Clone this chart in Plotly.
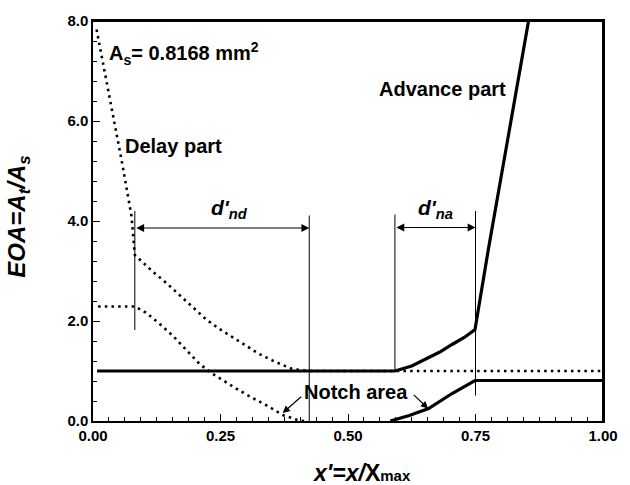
import plotly.graph_objects as go

# ---- data ----
adv_x = [0.008, 0.592, 0.625, 0.652, 0.680, 0.704, 0.728, 0.749, 0.762, 0.775, 0.854]
adv_y = [1.0, 1.0, 1.10, 1.24, 1.38, 1.53, 1.67, 1.83, 2.62, 3.42, 8.0]

delay_up_x = [0.007, 0.020, 0.033, 0.045, 0.056, 0.066, 0.0755, 0.082, 0.100, 0.118, 0.145, 0.170,
              0.196, 0.222, 0.248, 0.274, 0.300, 0.326, 0.358, 0.391, 0.424, 1.0]
delay_up_y = [7.83, 7.15, 6.48, 5.82, 5.22, 4.65, 4.10, 3.32, 3.15, 2.98, 2.75, 2.52,
              2.27, 2.03, 1.84, 1.67, 1.50, 1.34, 1.18, 1.04, 1.0, 1.0]

delay_low_x = [0.010, 0.082, 0.105, 0.131, 0.157, 0.183, 0.209, 0.235, 0.261, 0.287, 0.313, 0.339, 0.372, 0.404, 0.415]
delay_low_y = [2.29, 2.29, 2.16, 1.94, 1.70, 1.42, 1.14, 0.94, 0.77, 0.61, 0.46, 0.32, 0.12, 0.01, 0.0]

notch_x = [0.583, 0.620, 0.658, 0.704, 0.749, 1.0]
notch_y = [0.0, 0.11, 0.25, 0.55, 0.81, 0.81]

# guide lines (x position, y bottom, y top)
guide_x = [0.082, 0.424, 0.592, 0.750]
guide_y0 = [1.82, 0.0, 1.0, 0.51]
guide_y1 = [4.20, 4.11, 4.13, 4.20]

# dimension arrows (x start, x end, y)
dim_x0 = [0.082, 0.592]
dim_x1 = [0.424, 0.750]
dim_y = [3.86, 3.87]
dim_labels = ["<i>d'</i><sub><i>nd</i></sub>", "<i>d'</i><sub><i>na</i></sub>"]
dim_label_x = [0.268, 0.671]
dim_label_y = [4.25, 4.25]

x_range = [0, 1]
y_range = [0, 8]
x_ticks = [0.0, 0.25, 0.5, 0.75, 1.0]
x_ticktext = ["0.00", "0.25", "0.50", "0.75", "1.00"]
y_ticks = [0, 2, 4, 6, 8]
y_ticktext = ["0.0", "2.0", "4.0", "6.0", "8.0"]

FONT = "Liberation Sans, Arial, sans-serif"

fig = go.Figure()
dotted = dict(color="black", width=2.6, dash="2.5px,4.2px")
fig.add_trace(go.Scatter(x=delay_up_x, y=delay_up_y, mode="lines", line=dotted, hoverinfo="skip"))
fig.add_trace(go.Scatter(x=delay_low_x, y=delay_low_y, mode="lines", line=dotted, hoverinfo="skip"))
fig.add_trace(go.Scatter(x=adv_x, y=adv_y, mode="lines", line=dict(color="black", width=3.2), hoverinfo="skip"))
fig.add_trace(go.Scatter(x=notch_x, y=notch_y, mode="lines", line=dict(color="black", width=3.2), hoverinfo="skip"))
# invisible trace that activates the top/right frame axes
fig.add_trace(go.Scatter(x=[x_range[0]], y=[y_range[0]], xaxis="x2", yaxis="y2", mode="markers",
                         marker=dict(opacity=0), hoverinfo="skip"))

for gx, g0, g1 in zip(guide_x, guide_y0, guide_y1):
    fig.add_shape(type="line", x0=gx, x1=gx, y0=g0, y1=g1, xref="x", yref="y",
                  line=dict(color="black", width=1))

# top and right frame lines
fig.add_shape(type="line", x0=0, x1=1, y0=1, y1=1, xref="paper", yref="paper",
              line=dict(color="black", width=2), layer="above")
fig.add_shape(type="line", x0=1, x1=1, y0=0, y1=1, xref="paper", yref="paper",
              line=dict(color="black", width=2), layer="above")

ann = []
for x0, x1, yy in zip(dim_x0, dim_x1, dim_y):
    ann.append(dict(x=x1, y=yy, ax=x0, ay=yy, xref="x", yref="y", axref="x", ayref="y",
                    text="", showarrow=True, arrowhead=2, arrowside="end+start",
                    arrowsize=1.3, arrowwidth=1.2, arrowcolor="black",
                    startarrowhead=2, startarrowsize=1.3))
for t, lx, ly in zip(dim_labels, dim_label_x, dim_label_y):
    ann.append(dict(x=lx, y=ly, xref="x", yref="y", text=t, showarrow=False,
                    xanchor="center", yanchor="middle",
                    font=dict(family=FONT, size=21, color="black", weight="bold")))

text_font = dict(family=FONT, size=20, color="black", weight="bold")
ann += [
    dict(x=0.158, y=5.50, xref="x", yref="y", text="Delay part", showarrow=False,
         xanchor="center", yanchor="middle", font=text_font),
    dict(x=0.685, y=6.64, xref="x", yref="y", text="Advance part", showarrow=False,
         xanchor="center", yanchor="middle", font=text_font),
    dict(x=0.516, y=0.59, xref="x", yref="y", text="Notch area", showarrow=False,
         xanchor="center", yanchor="middle", font=text_font),
    dict(x=0.028, y=7.36, xref="x", yref="y", xanchor="left", yanchor="middle",
         text="A<sub>s</sub>= 0.8168 mm<sup>2</sup>", showarrow=False, font=text_font),
    dict(x=0.372, y=0.16, ax=0.411, ay=0.51, xref="x", yref="y", axref="x", ayref="y", text="",
         showarrow=True, arrowhead=2, arrowsize=1.2, arrowwidth=1.2, arrowcolor="black"),
    dict(x=0.657, y=0.25, ax=0.626, ay=0.55, xref="x", yref="y", axref="x", ayref="y", text="",
         showarrow=True, arrowhead=2, arrowsize=1.2, arrowwidth=1.2, arrowcolor="black"),
    dict(x=-0.145, y=0.511, xref="paper", yref="paper", textangle=-90, showarrow=False,
         xanchor="center", yanchor="middle",
         text="<i>EOA=A<sub>t</sub>/A<sub>s</sub></i>",
         font=dict(family=FONT, size=24, color="black", weight="bold")),
    dict(x=0.527, y=-0.13, xref="paper", yref="paper", showarrow=False,
         xanchor="center", yanchor="middle",
         text="<i>x'=x/</i>X<span style='font-size:15px'>max</span>",
         font=dict(family=FONT, size=23, color="black", weight="bold")),
]

axis_common = dict(showgrid=False, zeroline=False, showline=True, linecolor="black", linewidth=1.5,
                   mirror=True, ticks="inside", ticklen=7, tickwidth=1.2, tickcolor="black",
                   tickfont=dict(family=FONT, size=15, color="black", weight="bold"))
frame_axis = dict(showgrid=False, zeroline=False, showline=True, linecolor="black", linewidth=1.5,
                  ticks="", showticklabels=False)

fig.update_layout(
    width=630, height=485,
    margin=dict(l=93, r=25, t=16, b=64),
    paper_bgcolor="white", plot_bgcolor="white",
    showlegend=False,
    annotations=ann,
    xaxis=dict(range=x_range, tickvals=x_ticks, ticktext=x_ticktext,
               minor=dict(dtick=0.03125, tick0=0, ticks="inside", ticklen=4, tickcolor="black", tickwidth=1),
               **axis_common),
    yaxis=dict(range=y_range, tickvals=y_ticks, ticktext=y_ticktext,
               minor=dict(dtick=0.4, tick0=0, ticks="inside", ticklen=4, tickcolor="black", tickwidth=1),
               **axis_common),
    xaxis2=dict(range=x_range, overlaying="x", side="top", anchor="y2", **frame_axis),
    yaxis2=dict(range=y_range, overlaying="y", side="right", anchor="x2", **frame_axis),
)

# remove the browser's default 8px page margin so the 630x485 figure fills the window exactly
fig.write_html("out.html", config={"displayModeBar": False},
               post_script="document.body.style.margin='0px';document.body.style.overflow='hidden';")
